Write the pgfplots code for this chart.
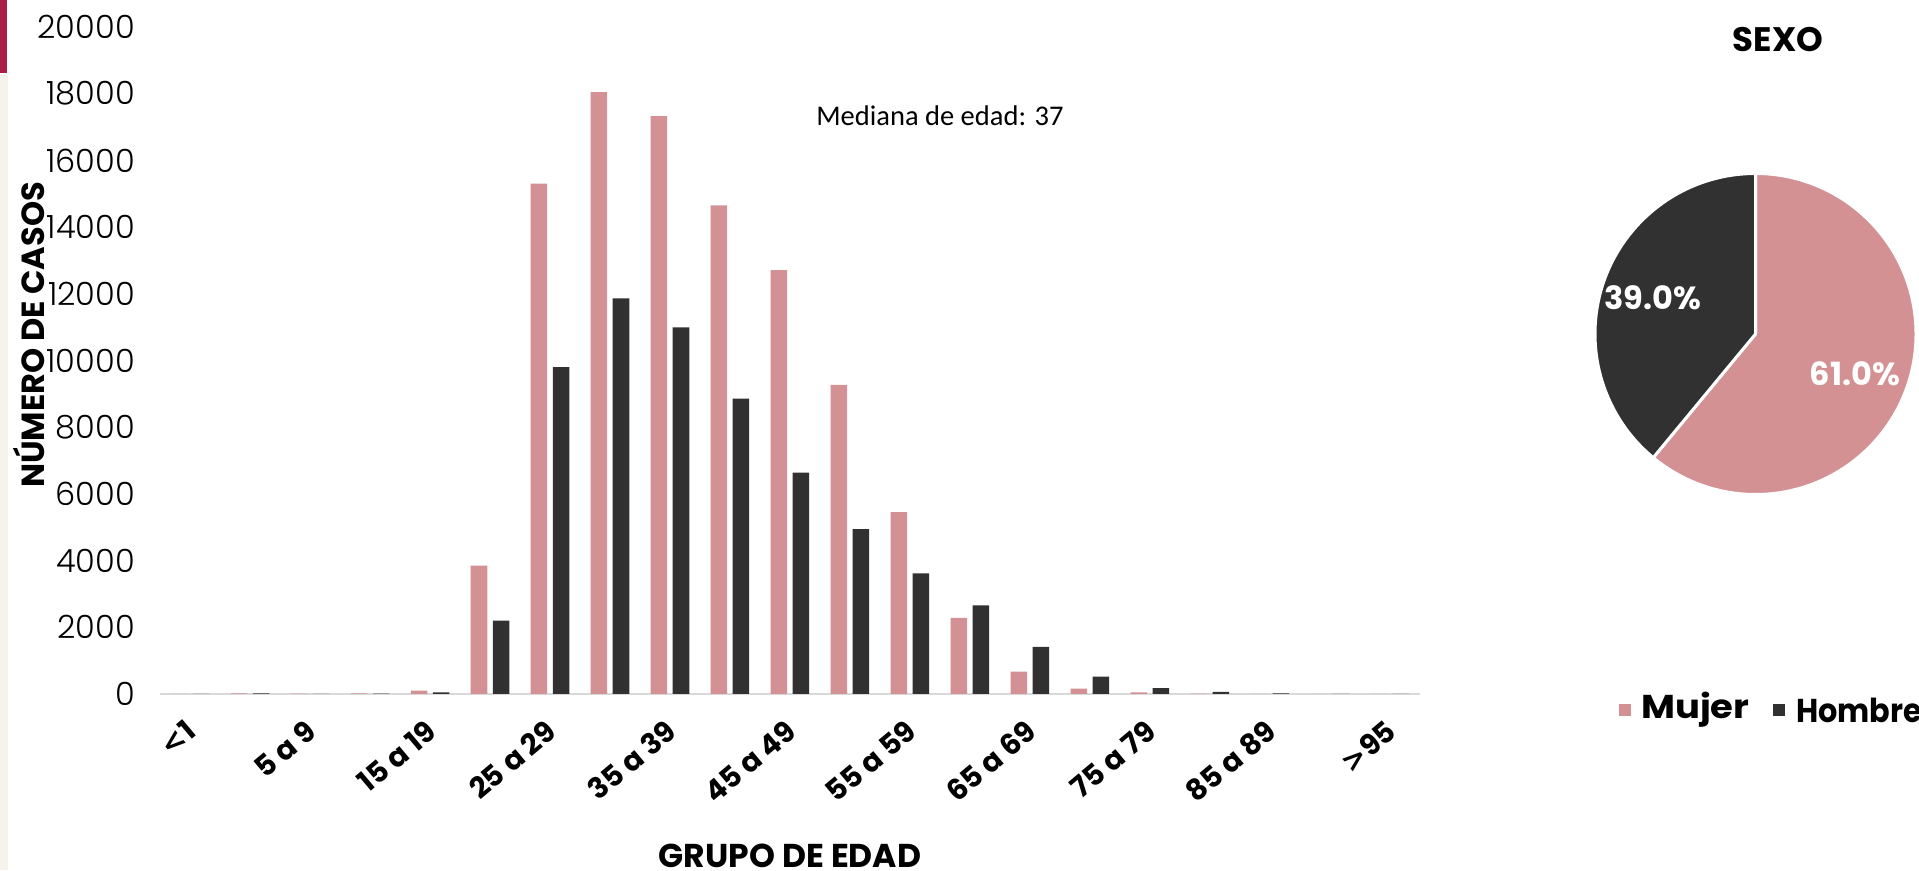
\documentclass[border=0pt]{standalone}
\usepackage{fontspec}
\setmainfont{Poppins}
\newfontfamily\lightfont{Poppins}[UprightFont=* Light]
\newfontfamily\calib{Carlito}
\newfontfamily\dejavu{DejaVu Sans}
\usepackage{pgfplots}
\pgfplotsset{compat=1.18}
\definecolor{mujer}{RGB}{212,145,148}
\definecolor{hombre}{RGB}{49,49,49}
\definecolor{crimson}{RGB}{170,30,72}
\definecolor{beige}{RGB}{246,243,236}
\def\pctMujer{61.0}
\def\pctHombre{39.0}
\begin{document}
\begin{tikzpicture}
\path[use as bounding box] (0,0) rectangle (1919pt,870pt);
\fill[beige] (0,0) rectangle (8pt,795pt);
\fill[crimson] (0,797pt) rectangle (7pt,870pt);
\begin{axis}[
  at={(160pt,176pt)}, anchor=south west,
  scale only axis, width=1260pt, height=667pt,
  ybar, bar width=16.5pt,
  xmin=-0.5, xmax=20.5, ymin=0, ymax=20000,
  xtick={0,2,...,20},
  xticklabels={{\dejavu\bfseries <}1,5 a 9,15 a 19,25 a 29,35 a 39,45 a 49,55 a 59,65 a 69,75 a 79,85 a 89,{\dejavu\bfseries >}95},
  ytick={0,2000,...,20000},
  axis line style={draw=none},
  extra y ticks={0}, extra y tick labels={},
  extra y tick style={grid=major, major grid style={draw=black!15, line width=2.5pt}},
  major tick length=0pt,
  tick style={draw=none},
  scaled y ticks=false,
  yticklabel style={font=\lightfont\fontsize{32}{32}\selectfont, anchor=east, inner sep=0pt, xshift=-25pt, /pgf/number format/1000 sep={}, /pgf/number format/assume math mode=true},
  every x tick label/.append style={rotate=40, anchor=north east, inner sep=0pt, yshift=-15pt, xshift=-20pt, font=\bfseries\fontsize{29}{29}\selectfont},
]
\addplot[fill=mujer, draw=none, bar shift=-11pt] coordinates {
(0,5) (1,20) (2,10) (3,15) (4,100) (5,3850) (6,15300) (7,18050) (8,17330) (9,14650)
(10,12710) (11,9270) (12,5450) (13,2280) (14,670) (15,160) (16,50) (17,10) (18,5) (19,0) (20,0)};
\addplot[fill=hombre, draw=none, bar shift=11pt] coordinates {
(0,5) (1,20) (2,5) (3,10) (4,50) (5,2200) (6,9800) (7,11860) (8,10990) (9,8860)
(10,6640) (11,4940) (12,3620) (13,2660) (14,1410) (15,520) (16,175) (17,65) (18,20) (19,5) (20,0)};
\end{axis}
\node[rotate=90, font=\bfseries\fontsize{32}{32}\selectfont] at (29pt,535pt) {NÚMERO DE CASOS};
\node[font=\bfseries\fontsize{33}{33}\selectfont, anchor=base] at (790pt,3pt) {GRUPO DE EDAD};
\node[font=\calib\fontsize{28.5}{28.5}\selectfont] at (940pt,754pt) {Mediana de edad: 37};
% pie
\begin{axis}[at={(1755.5pt,536pt)}, anchor=center, x=160.5pt, y=160.5pt,
  xmin=-1, xmax=1, ymin=-1, ymax=1, hide axis, clip=false]
\filldraw[fill=mujer, draw=white, line width=3pt, line join=round] (axis cs:0,0) -- (axis cs:0,1) arc[start angle=90, delta angle={-3.6*\pctMujer}, radius=160.5pt] -- cycle;
\filldraw[fill=hombre, draw=white, line width=3pt, line join=round] (axis cs:0,0) -- (axis cs:0,1) arc[start angle=90, delta angle={3.6*\pctHombre}, radius=160.5pt] -- cycle;
\end{axis}
\node[white, font=\bfseries\fontsize{32}{32}\selectfont] at (1653pt,572pt) {39.0\%};
\node[white, font=\bfseries\fontsize{32}{32}\selectfont] at (1855pt,496.5pt) {61.0\%};
\node[font=\bfseries\fontsize{34}{34}\selectfont] at (1778pt,830pt) {SEXO};
\fill[mujer] (1619pt,154pt) rectangle (1631pt,166pt);
\node[font=\bfseries\fontsize{33}{33}\selectfont, anchor=west, inner sep=0pt, xscale=1.12] at (1641pt,160pt) {Mujer};
\fill[hombre] (1773pt,154pt) rectangle (1785pt,166pt);
\node[font=\bfseries\fontsize{33}{33}\selectfont, anchor=west, inner sep=0pt, xscale=0.92] at (1796pt,160pt) {Hombre};
\end{tikzpicture}
\end{document}
